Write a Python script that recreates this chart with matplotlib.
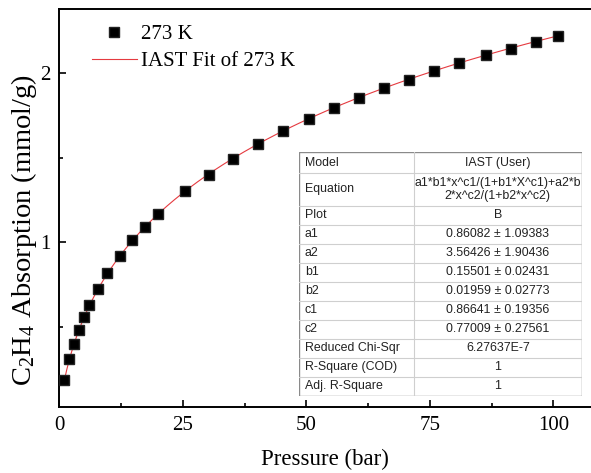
import numpy as np
import matplotlib
matplotlib.use("Agg")
import matplotlib.pyplot as plt
from matplotlib.ticker import MultipleLocator

plt.rcParams['font.family'] = ['Liberation Serif', 'DejaVu Serif']
plt.rcParams['mathtext.fontset'] = 'custom'
plt.rcParams['mathtext.rm'] = 'Liberation Serif'

#%% data

pressure = [1.0, 2.0, 2.9, 3.9, 5.0, 6.0, 7.8, 9.7, 12.2, 14.8, 17.4, 20.0,
            25.4, 30.2, 35.2, 40.2, 45.3, 50.5, 55.6, 60.7, 65.7, 70.8,
            75.9, 80.9, 86.4, 91.4, 96.5, 101.0]
uptake = [0.190, 0.314, 0.400, 0.483, 0.561, 0.629, 0.723, 0.821, 0.917,
          1.012, 1.092, 1.169, 1.301, 1.399, 1.491, 1.578, 1.656, 1.727,
          1.794, 1.853, 1.908, 1.957, 2.010, 2.055, 2.103, 2.140, 2.181, 2.217]

# fit parameters shown in the table (a1, a2, b1, b2, c1, c2)
fit_params = [0.86082, 3.56426, 0.15501, 0.01959, 0.86641, 0.77009]

table_names = ['Model', 'Equation', 'Plot', 'a1', 'a2', 'b1', 'b2', 'c1', 'c2',
               'Reduced Chi-Sqr', 'R-Square (COD)', 'Adj. R-Square']
table_values = ['IAST (User)',
                'a1*b1*x^c1/(1+b1*X^c1)+a2*b\n2*x^c2/(1+b2*x^c2)',
                'B',
                '0.86082 ± 1.09383', '3.56426 ± 1.90436',
                '0.15501 ± 0.02431', '0.01959 ± 0.02773',
                '0.86641 ± 0.19356', '0.77009 ± 0.27561',
                '6.27637E-7', '1', '1']


def iast(x, a1, a2, b1, b2, c1, c2):
    return a1*b1*x**c1/(1+b1*x**c1) + a2*b2*x**c2/(1+b2*x**c2)


#%% figure

W, H = 591, 473
fig = plt.figure(figsize=(W/100, H/100), dpi=100)
ax = fig.add_axes([59.3/W, 1-406.7/H, (W-59.3)/W, (406.7-9)/H])

xfit = np.linspace(pressure[0], pressure[-1], 400)
ax.plot(xfit, iast(xfit, *fit_params), color='#e53a40', lw=0.8,
        label='IAST Fit of 273 K', zorder=2)
ax.plot(pressure, uptake, ls='none', marker='s', ms=6.5, color='black',
        mec='#222222', label='273 K', zorder=3)

ax.set_xlim(0, 107.6)
ax.set_ylim(0.031, 2.376)
ax.xaxis.set_major_locator(MultipleLocator(25))
ax.xaxis.set_minor_locator(MultipleLocator(12.5))
ax.yaxis.set_major_locator(MultipleLocator(1))
ax.yaxis.set_minor_locator(MultipleLocator(0.5))
ax.tick_params(which='both', direction='in', width=1.2, labelsize=15)
ax.tick_params(which='major', length=5)
ax.tick_params(which='minor', length=3)
ax.tick_params(axis='x', pad=7)
ax.tick_params(axis='y', pad=6)
for s in ['left', 'bottom', 'top']:
    ax.spines[s].set_linewidth(1.4)
ax.spines['right'].set_visible(False)

ax.set_xlabel('Pressure (bar)', fontsize=16.5, labelpad=10)
ax.set_ylabel(r'C$\mathregular{_2}$H$\mathregular{_4}$ Absorption (mmol/g)',
              fontsize=20.5)
ax.yaxis.set_label_coords(-0.066, 0.444)
ax.yaxis.label.set_va('center')

handles, labels = ax.get_legend_handles_labels()
ax.legend(handles[::-1], labels[::-1], loc='upper left',
          bbox_to_anchor=(0.061, 0.96), frameon=False, fontsize=15,
          handlelength=2.16, handletextpad=0.2, labelspacing=0.35,
          borderaxespad=0, borderpad=0)

#%% parameter table (pixel coordinates inside its own axes)

tl, tr, tt, tb = 299.3, 581.7, 152.3, 395.6
tax = fig.add_axes([tl/W, 1-tb/H, (tr-tl)/W, (tb-tt)/H])
tax.set_xlim(0, tr-tl)
tax.set_ylim(tb-tt, 0)
tax.axis('off')
tax.patch.set_visible(True)
tax.patch.set_facecolor('white')

row_h = [21.0] + [32.4] + [19.0]*10
edges = np.concatenate([[0], np.cumsum(row_h)])
edges = edges * (tb-tt) / edges[-1]
col = 414 - tl
grid_c = '#cfcfcf'
for yy in edges[1:-1]:
    tax.plot([0, tr-tl], [yy, yy], color=grid_c, lw=0.8)
tax.plot([col, col], [0, tb-tt], color=grid_c, lw=0.8)
tax.add_patch(plt.Rectangle((0, 0), tr-tl, tb-tt, fill=False,
                            edgecolor='#8a8a8a', lw=1.0))
for i, (name, val) in enumerate(zip(table_names, table_values)):
    yc = (edges[i] + edges[i+1]) / 2
    tax.text(5.5, yc, name, ha='left', va='center', fontsize=8.9,
             family='Liberation Sans', color='#222222')
    tax.text((col + tr - tl) / 2, yc, val, ha='center', va='center',
             fontsize=8.9, family='Liberation Sans', color='#222222',
             linespacing=1.1)

fig.savefig('out.png', dpi=100)
